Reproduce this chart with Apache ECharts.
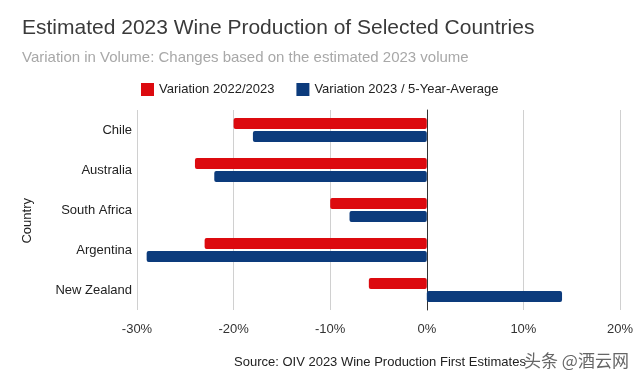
<!DOCTYPE html>
<html>
<head>
<meta charset="utf-8">
<script src="https://cdn.jsdelivr.net/npm/echarts@6/dist/echarts.min.js"></script>
<style>html,body{margin:0;padding:0;background:#fff;}#c{width:640px;height:384px;}</style>
</head>
<body>
<div id="c"></div>
<script>
var categories = ['Chile', 'Australia', 'South Africa', 'Argentina', 'New Zealand'];
var variation2022 = [-20, -24, -10, -23, -6];
var variation5yr = [-18, -22, -8, -29, 14];
var seriesNames = ['Variation 2022/2023', 'Variation 2023 / 5-Year-Average'];
var xTicks = { min: -30, max: 20, interval: 10 };

var chart = echarts.init(document.getElementById('c'), null, { renderer: 'canvas' });
var font = 'Liberation Sans, Arial, sans-serif';
chart.setOption({
  backgroundColor: '#fff',
  animation: false,
  title: [{
    text: 'Estimated 2023 Wine Production of Selected Countries',
    left: 17, top: 13,
    textStyle: { fontFamily: font, fontSize: 21, fontWeight: 'normal', color: '#3a3a3a' }
  }, {
    text: 'Variation in Volume: Changes based on the estimated 2023 volume',
    left: 17, top: 45,
    textStyle: { fontFamily: font, fontSize: 15, fontWeight: 'normal', color: '#a8a8a8' }
  }],
  legend: {
    top: 78, left: 136,
    itemWidth: 13, itemHeight: 13, itemGap: 22,
    icon: 'rect',
    textStyle: { fontFamily: font, fontSize: 13, color: '#222' },
    data: seriesNames
  },
  grid: { left: 137, right: 20, top: 110, bottom: 74, containLabel: false },
  xAxis: {
    type: 'value', min: xTicks.min, max: xTicks.max, interval: xTicks.interval,
    axisLabel: { formatter: '{value}%', fontFamily: font, fontSize: 13, color: '#333', margin: 13 },
    axisLine: { show: false }, axisTick: { show: false },
    splitLine: { show: true, lineStyle: { color: '#d0d0d0', width: 1 } }
  },
  yAxis: {
    type: 'category', data: categories, inverse: true,
    axisLine: { show: true, onZero: true, lineStyle: { color: '#333', width: 1 } },
    axisTick: { show: false },
    axisLabel: { fontFamily: font, fontSize: 13, color: '#222', margin: 5 },
    position: 'left'
  },
  series: [
    { name: seriesNames[0], type: 'bar', data: variation2022, barWidth: 11, barGap: '20%',
      itemStyle: { color: '#dc0a0f', borderRadius: 2 } },
    { name: seriesNames[1], type: 'bar', data: variation5yr, barWidth: 11, barGap: '20%',
      itemStyle: { color: '#0c3b7c', borderRadius: 2 } }
  ],
  graphic: [
    { type: 'text', left: 21, top: 198, rotation: Math.PI / 2,
      style: { text: 'Country', fontFamily: font, fontSize: 13, fill: '#222' } },
    { type: 'text', left: 234, top: 356,
      style: { text: 'Source: OIV 2023 Wine Production First Estimates', fontFamily: font, fontSize: 13, fill: '#222' } },
    { type: 'text', left: 524, top: 352,
      style: { text: '头条 @酒云网', fontFamily: 'Noto Sans CJK SC, sans-serif', fontSize: 17, fill: '#666' } }
  ]
});
</script>
</body>
</html>
